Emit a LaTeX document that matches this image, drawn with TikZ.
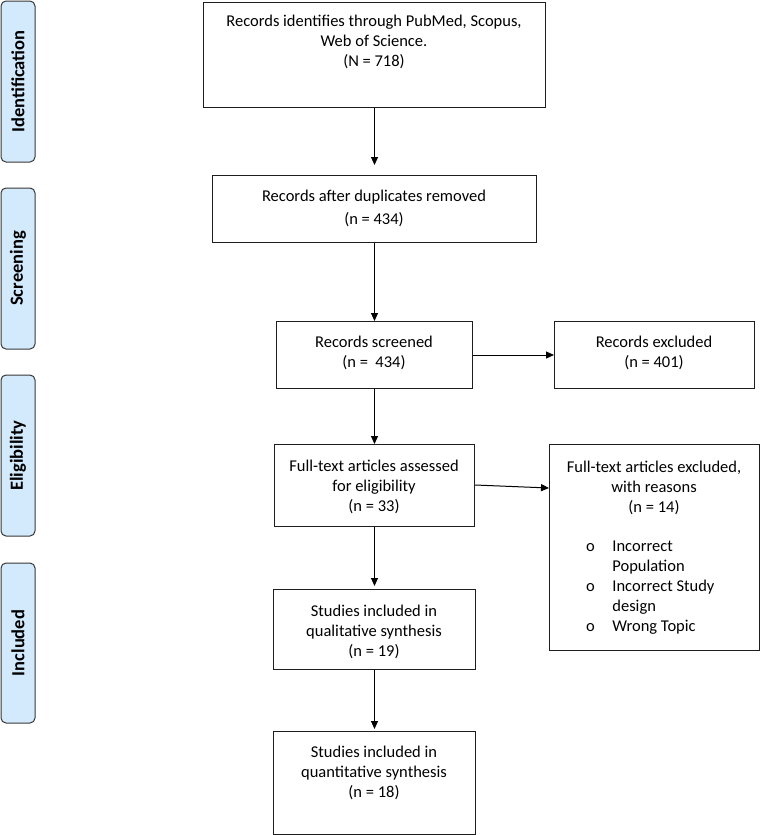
\documentclass[tikz,border=0pt]{standalone}
\usepackage{fontspec}
\setmainfont{Carlito}
\usetikzlibrary{arrows.meta,calc}
\definecolor{sidefill}{RGB}{210,234,252}
\definecolor{sidedraw}{RGB}{55,55,55}
\definecolor{boxdraw}{RGB}{30,30,30}
\tikzset{
  flowbox/.style={draw=boxdraw, line width=1pt, inner sep=0pt, anchor=north west},
  sidebox/.style={draw=sidedraw, fill=sidefill, line width=1pt, rounded corners=5pt, rotate=90,
    inner sep=0pt, font=\fontsize{18.5}{20}\selectfont\bfseries},
  txt/.style={align=center, inner sep=0pt, anchor=north, font=\fontsize{16.5}{20}\selectfont},
  flow/.style={line width=1pt, -{Triangle[length=8pt,width=7pt]}}
}
\begin{document}
\begin{tikzpicture}[x=1pt,y=-1pt]
\useasboundingbox (0,0) rectangle (760,835);
% side labels
\node[sidebox, minimum width=161pt, minimum height=34pt] (s1) at (18,81.5) {Identification};
\node[sidebox, minimum width=161pt, minimum height=34pt] (s2) at (18,268.5) {Screening};
\node[sidebox, minimum width=161pt, minimum height=34pt] (s3) at (18,455.5) {Eligibility};
\node[sidebox, minimum width=160pt, minimum height=34pt] (s4) at (18,643) {Included};
% boxes
\node[flowbox, minimum width=342pt, minimum height=105pt] (b1) at (203,2) {};
\node[flowbox, minimum width=324pt, minimum height=67pt] (b2) at (212,175) {};
\node[flowbox, minimum width=196pt, minimum height=67pt] (b3) at (276,321) {};
\node[flowbox, minimum width=200pt, minimum height=67pt] (e1) at (554,321) {};
\node[flowbox, minimum width=200pt, minimum height=82pt] (b4) at (274,444) {};
\node[flowbox, minimum width=210pt, minimum height=206pt] (e2) at (549,444) {};
\node[flowbox, minimum width=202pt, minimum height=80pt] (b5) at (273,589) {};
\node[flowbox, minimum width=202pt, minimum height=103pt] (b6) at (273,731) {};
% texts
\node[txt] (t1) at (374,15) {Records identifies through PubMed, Scopus,\\Web of Science.\\(N = 718)};
\node[txt, font=\fontsize{16.5}{23}\selectfont] (t2) at (374,190) {Records after duplicates removed\\(n = 434)};
\node[txt] (t3) at (374,336) {Records screened\\(n =\ \ 434)};
\node[txt] (te1) at (654,336) {Records excluded\\(n = 401)};
\node[txt] (t4) at (374,460) {Full-text articles assessed\\for eligibility\\(n = 33)};
\node[txt] (te2) at (654,461) {Full-text articles excluded,\\with reasons\\(n = 14)};
\node[txt, anchor=north west, align=left] (tb) at (586,537.5) {%
\begin{tabular}{@{}l@{\hspace{17.5pt}}l@{}}
o & Incorrect\\
  & Population\\
o & Incorrect Study\\
  & design\\
o & Wrong Topic
\end{tabular}};
\node[txt] (t5) at (374,605) {Studies included in\\qualitative synthesis\\(n = 19)};
\node[txt] (t6) at (374,746) {Studies included in\\quantitative synthesis\\(n = 18)};
% connectors
\draw[flow, shorten >=10pt] (b1.south) -- (b2.north);
\draw[flow] (b2.south) -- (b3.north);
\draw[flow] (b3.south) -- (b4.north);
\draw[flow, shorten >=3pt] (b4.south) -- (b5.north);
\draw[flow, shorten >=2pt] (b5.south) -- (b6.north);
\draw[flow] (b3.east) -- (e1.west);
\draw[flow] ($(b4.north east)+(0,41)$) -- ($(e2.north west)+(0,44)$);
\end{tikzpicture}
\end{document}
